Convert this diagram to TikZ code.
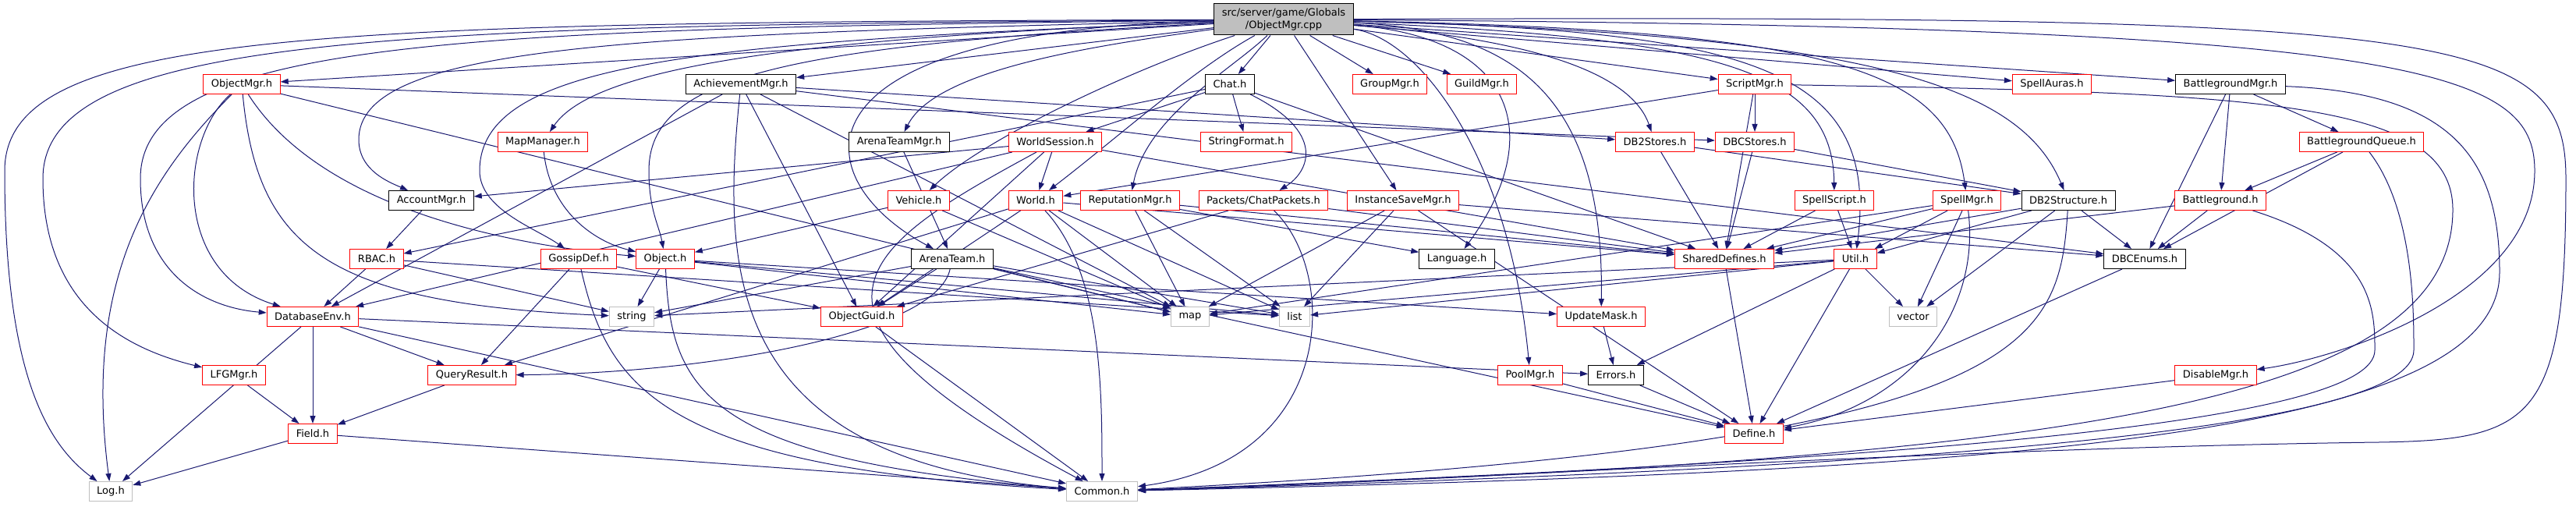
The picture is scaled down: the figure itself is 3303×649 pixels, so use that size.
\documentclass[tikz,border=0pt]{standalone}
\usepackage{fontspec}
\setmainfont{DejaVu Sans}
\usepackage{tikz}
\usetikzlibrary{arrows.meta}
\definecolor{edgeblue}{HTML}{191970}
\definecolor{hdrgray}{HTML}{BFBFBF}
\pgfdeclarelayer{bg}
\pgfsetlayers{bg,main}

\begin{document}
\begin{tikzpicture}[x=1pt,y=1pt,
  box/.style={rectangle, draw, fill=white, line width=1pt, minimum height=25pt,
    inner xsep=10pt, inner ysep=2pt, font=\fontsize{13}{16}\selectfont},
  redbox/.style={box, draw=red},
  blackbox/.style={box, draw=black},
  sysbox/.style={box, draw=hdrgray},
  rootbox/.style={box, draw=black, fill=hdrgray, minimum height=40pt, align=center},
  dep/.style={draw=edgeblue, line width=1pt, -{Triangle[length=10pt,width=7pt]}}]
\useasboundingbox (0,0) rectangle (3303,649);

% Nodes
\node[rootbox] (root) at (1646,624) {src/server/game/Globals\\/ObjectMgr.cpp};

\node[redbox] (objmgr) at (310,541) {ObjectMgr.h};
\node[blackbox] (achv) at (950,541) {AchievementMgr.h};
\node[blackbox] (chat) at (1577,541) {Chat.h};
\node[redbox] (groupmgr) at (1782,541) {GroupMgr.h};
\node[redbox] (guildmgr) at (1900,541) {GuildMgr.h};
\node[redbox] (scriptmgr) at (2250,541) {ScriptMgr.h};
\node[redbox] (spellauras) at (2631,541) {SpellAuras.h};
\node[blackbox] (bgmgr) at (2860,541) {BattlegroundMgr.h};

\node[redbox] (mapmgr) at (696,467) {MapManager.h};
\node[blackbox] (arenateammgr) at (1153,467) {ArenaTeamMgr.h};
\node[redbox] (worldsession) at (1353,467) {WorldSession.h};
\node[redbox] (stringformat) at (1598,467) {StringFormat.h};
\node[redbox] (db2stores) at (2122,467) {DB2Stores.h};
\node[redbox] (dbcstores) at (2250,467) {DBCStores.h};
\node[redbox] (bgqueue) at (3028,467) {BattlegroundQueue.h};

\node[blackbox] (accountmgr) at (553,392) {AccountMgr.h};
\node[redbox] (vehicle) at (1178,392) {Vehicle.h};
\node[redbox] (world) at (1328,392) {World.h};
\node[redbox] (reputation) at (1449,392) {ReputationMgr.h};
\node[redbox] (chatpackets) at (1620,392) {Packets/ChatPackets.h};
\node[redbox] (instsave) at (1799,392) {InstanceSaveMgr.h};
\node[redbox] (spellscript) at (2352,392) {SpellScript.h};
\node[redbox] (spellmgr) at (2522,392) {SpellMgr.h};
\node[blackbox] (db2structure) at (2652,392) {DB2Structure.h};
\node[redbox] (battleground) at (2847,392) {Battleground.h};

\node[redbox] (rbac) at (483,317) {RBAC.h};
\node[redbox] (gossip) at (742,317) {GossipDef.h};
\node[redbox] (object) at (853,317) {Object.h};
\node[blackbox] (arenateam) at (1221,317) {ArenaTeam.h};
\node[blackbox] (language) at (1868,317) {Language.h};
\node[redbox] (shareddefs) at (2211,317) {SharedDefines.h};
\node[redbox] (util) at (2379,317) {Util.h};
\node[blackbox] (dbcenums) at (2750,317) {DBCEnums.h};

\node[redbox] (dbenv) at (401,243) {DatabaseEnv.h};
\node[sysbox] (string) at (810,243) {string};
\node[redbox] (objguid) at (1105,243) {ObjectGuid.h};
\node[sysbox] (map) at (1526,243) {map};
\node[sysbox] (list) at (1660,243) {list};
\node[redbox] (updatemask) at (2053,243) {UpdateMask.h};
\node[sysbox] (vector) at (2453,243) {vector};

\node[redbox] (lfgmgr) at (300,168) {LFGMgr.h};
\node[redbox] (queryresult) at (605,168) {QueryResult.h};
\node[redbox] (poolmgr) at (1962,168) {PoolMgr.h};
\node[blackbox] (errors) at (2072,168) {Errors.h};
\node[redbox] (disablemgr) at (2841,168) {DisableMgr.h};

\node[redbox] (field) at (401,93) {Field.h};
\node[redbox] (define) at (2249,93) {Define.h};

\node[sysbox] (log) at (142,19) {Log.h};
\node[sysbox] (common) at (1413,19) {Common.h};

% Edges
\begin{pgfonlayer}{bg}
\foreach \to in {objmgr,achv,chat,groupmgr,guildmgr,scriptmgr,spellauras,bgmgr,instsave}
  \draw[dep] (root) -- (\to);
\draw[dep] (root) .. controls (1000,600) and (760,560) .. (mapmgr);
\draw[dep] (root) .. controls (800,605) and (460,590) .. (460,470) .. controls (460,430) and (500,415) .. (accountmgr);
\draw[dep] (root) .. controls (900,595) and (615,570) .. (615,430) .. controls (615,380) and (690,355) .. (gossip);
\draw[dep] (root) .. controls (1000,590) and (832,550) .. (832,430) .. controls (832,380) and (845,360) .. (object);
\draw[dep] (root) .. controls (600,612) and (180,600) .. (180,420) .. controls (180,300) and (260,255) .. (dbenv);
\draw[dep] (root) .. controls (500,616) and (55,605) .. (55,420) .. controls (55,250) and (170,200) .. (lfgmgr);
\draw[dep] (root) .. controls (400,620) and (6,610) .. (6,430) .. controls (6,170) and (60,80) .. (log);
\draw[dep] (root) .. controls (1400,590) and (1200,560) .. (arenateammgr);
\draw[dep] (root) .. controls (1450,560) and (1260,470) .. (vehicle);
\draw[dep] (root) .. controls (1530,560) and (1430,470) .. (world);
\draw[dep] (root) .. controls (1580,560) and (1470,500) .. (reputation);
\draw[dep] (root) .. controls (1000,610) and (1030,420) .. (arenateam);
\draw[dep] (root) .. controls (1950,600) and (2090,560) .. (db2stores);
\draw[dep] (root) .. controls (1950,600) and (1980,470) .. (language);
\draw[dep] (root) .. controls (1820,600) and (1935,450) .. (poolmgr);
\draw[dep] (root) .. controls (1950,610) and (2057,520) .. (updatemask);
\draw[dep] (root) .. controls (2200,600) and (2350,560) .. (spellscript);
\draw[dep] (root) .. controls (2250,610) and (2410,560) .. (util);
\draw[dep] (root) .. controls (2350,610) and (2500,560) .. (spellmgr);
\draw[dep] (root) .. controls (2400,605) and (2590,540) .. (db2structure);
\draw[dep] (root) .. controls (3100,615) and (3250,560) .. (3250,430) .. controls (3250,270) and (3000,190) .. (disablemgr);
\draw[dep] (root) .. controls (3150,630) and (3290,610) .. (3290,420) .. controls (3290,110) and (3250,85) .. (3050,82) .. controls (2500,75) and (1800,30) .. (common);

\draw[dep] (objmgr) .. controls (230,470) and (220,300) .. (dbenv);
\draw[dep] (objmgr) .. controls (200,430) and (105,300) .. (log);
\draw[dep] (objmgr) .. controls (330,330) and (420,260) .. (string);
\draw[dep] (objmgr) .. controls (400,400) and (600,340) .. (object);
\draw[dep] (objmgr) -- (map);
\draw[dep] (objmgr) -- (dbcstores);

\draw[dep] (achv) -- (db2stores);
\draw[dep] (achv) -- (map);
\draw[dep] (achv) -- (dbcenums);
\draw[dep] (achv) -- (dbenv);
\draw[dep] (achv) -- (objguid);
\draw[dep] (achv) .. controls (925,300) and (930,60) .. (common);

\draw[dep] (chat) -- (worldsession);
\draw[dep] (chat) -- (stringformat);
\draw[dep] (chat) .. controls (1700,480) and (1680,430) .. (chatpackets);
\draw[dep] (chat) -- (shareddefs);
\draw[dep] (chat) -- (rbac);

\draw[dep] (mapmgr) .. controls (705,380) and (760,340) .. (object);
\draw[dep] (accountmgr) -- (rbac);
\draw[dep] (arenateammgr) -- (arenateam);

\draw[dep] (worldsession) -- (world);
\draw[dep] (worldsession) -- (accountmgr);
\draw[dep] (worldsession) -- (dbenv);
\draw[dep] (worldsession) -- (shareddefs);
\draw[dep] (worldsession) -- (objguid);
\draw[dep] (worldsession) .. controls (1100,330) and (980,250) .. (common);

\draw[dep] (vehicle) -- (object);
\draw[dep] (vehicle) -- (map);

\draw[dep] (world) -- (map);
\draw[dep] (world) -- (list);
\draw[dep] (world) -- (shareddefs);
\draw[dep] (world) -- (objguid);
\draw[dep] (world) -- (queryresult);
\draw[dep] (world) .. controls (1413,300) and (1413,150) .. (common);

\draw[dep] (reputation) -- (map);
\draw[dep] (reputation) -- (list);
\draw[dep] (reputation) -- (shareddefs);
\draw[dep] (reputation) -- (language);

\draw[dep] (chatpackets) -- (shareddefs);
\draw[dep] (chatpackets) -- (objguid);
\draw[dep] (chatpackets) .. controls (1716,300) and (1716,60) .. (common);

\draw[dep] (instsave) -- (map);
\draw[dep] (instsave) -- (list);
\draw[dep] (instsave) -- (define);
\draw[dep] (instsave) -- (dbcenums);

\draw[dep] (scriptmgr) -- (dbcstores);
\draw[dep] (scriptmgr) -- (shareddefs);
\draw[dep] (scriptmgr) -- (world);
\draw[dep] (scriptmgr) .. controls (2900,530) and (3145,520) .. (3145,380) .. controls (3145,120) and (2600,60) .. (common);

\draw[dep] (db2stores) -- (shareddefs);
\draw[dep] (db2stores) -- (db2structure);
\draw[dep] (dbcstores) -- (shareddefs);
\draw[dep] (dbcstores) -- (db2structure);

\draw[dep] (spellscript) -- (shareddefs);
\draw[dep] (spellscript) -- (util);

\draw[dep] (spellmgr) -- (shareddefs);
\draw[dep] (spellmgr) -- (util);
\draw[dep] (spellmgr) -- (vector);
\draw[dep] (spellmgr) -- (map);
\draw[dep] (spellmgr) .. controls (2540,250) and (2450,130) .. (define);

\draw[dep] (db2structure) -- (util);
\draw[dep] (db2structure) -- (dbcenums);
\draw[dep] (db2structure) -- (shareddefs);
\draw[dep] (db2structure) -- (vector);
\draw[dep] (db2structure) .. controls (2640,200) and (2600,80) .. (common);

\draw[dep] (bgmgr) -- (battleground);
\draw[dep] (bgmgr) -- (bgqueue);
\draw[dep] (bgmgr) -- (dbcenums);
\draw[dep] (bgmgr) .. controls (3150,530) and (3205,440) .. (3205,300) .. controls (3205,90) and (2600,45) .. (common);
\draw[dep] (bgqueue) -- (battleground);
\draw[dep] (bgqueue) -- (dbcenums);
\draw[dep] (bgqueue) .. controls (3095,380) and (3095,250) .. (3095,200) .. controls (3095,100) and (2500,50) .. (common);
\draw[dep] (battleground) -- (shareddefs);
\draw[dep] (battleground) -- (dbcenums);
\draw[dep] (battleground) .. controls (3045,330) and (3045,250) .. (3045,200) .. controls (3045,110) and (2500,60) .. (common);

\draw[dep] (rbac) -- (dbenv);
\draw[dep] (rbac) -- (string);
\draw[dep] (rbac) -- (list);

\draw[dep] (gossip) -- (objguid);
\draw[dep] (gossip) -- (queryresult);
\draw[dep] (gossip) .. controls (780,150) and (850,50) .. (common);

\draw[dep] (object) -- (string);
\draw[dep] (object) -- (map);
\draw[dep] (object) -- (list);
\draw[dep] (object) -- (updatemask);
\draw[dep] (object) .. controls (860,150) and (900,60) .. (common);

\draw[dep] (arenateam) -- (objguid);
\draw[dep] (arenateam) -- (string);
\draw[dep] (arenateam) -- (map);
\draw[dep] (arenateam) -- (list);
\draw[dep] (arenateam) -- (define);
\draw[dep] (arenateam) .. controls (1200,220) and (900,170) .. (queryresult);

\draw[dep] (shareddefs) -- (define);
\draw[dep] (util) -- (define);
\draw[dep] (util) -- (errors);
\draw[dep] (util) -- (vector);
\draw[dep] (util) -- (map);
\draw[dep] (util) -- (list);
\draw[dep] (util) -- (string);
\draw[dep] (dbcenums) -- (define);

\draw[dep] (dbenv) -- (log);
\draw[dep] (dbenv) -- (field);
\draw[dep] (dbenv) -- (queryresult);
\draw[dep] (dbenv) -- (common);
\draw[dep] (dbenv) -- (errors);
\draw[dep] (objguid) -- (common);
\draw[dep] (updatemask) -- (errors);
\draw[dep] (lfgmgr) -- (field);
\draw[dep] (queryresult) -- (field);
\draw[dep] (poolmgr) -- (define);
\draw[dep] (errors) -- (define);
\draw[dep] (disablemgr) -- (define);
\draw[dep] (field) -- (log);
\draw[dep] (field) -- (common);
\end{pgfonlayer}
\end{tikzpicture}
\end{document}
